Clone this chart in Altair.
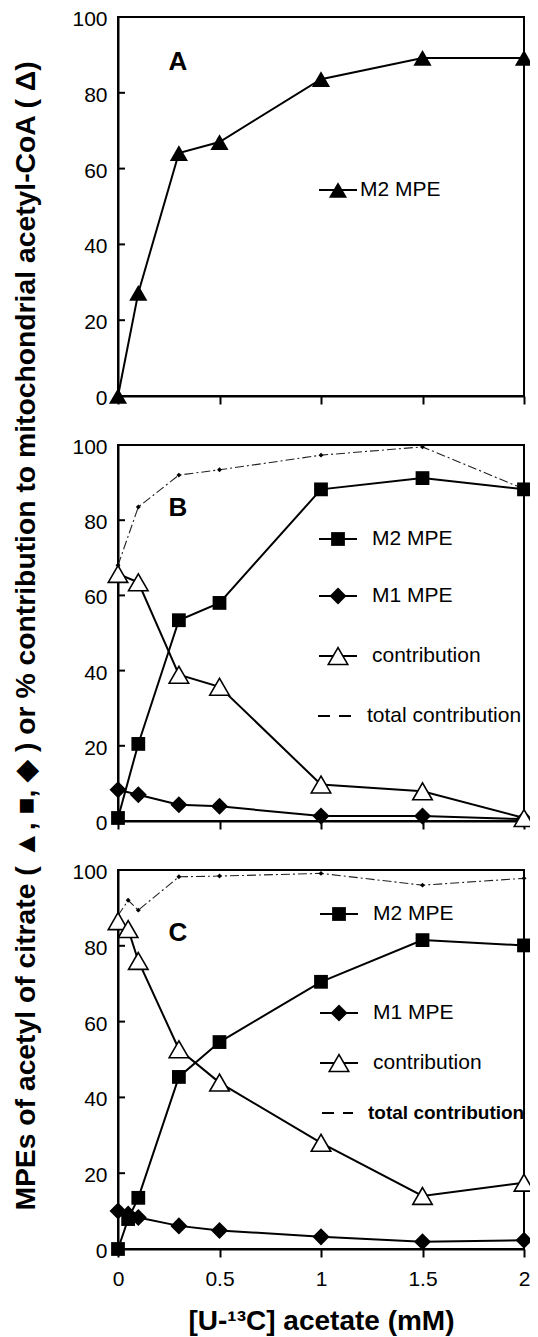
import altair as alt
import pandas as pd

FONT = "Liberation Sans"

# ---------------- data ----------------
x_ticks = [0, 0.5, 1, 1.5, 2]
y_ticks = [0, 20, 40, 60, 80, 100]

# Panel A
conc_A = [0, 0.1, 0.3, 0.5, 1, 1.5, 2]
m2_A = [0, 27.2, 64.1, 67.0, 83.6, 89.2, 89.2]

# Panel B
conc_B = [0, 0.1, 0.3, 0.5, 1, 1.5, 2]
m2_B = [0.8, 20.5, 53.4, 58.0, 88.2, 91.2, 88.2]
m1_B = [8.3, 7.0, 4.3, 3.9, 1.3, 1.3, 0.5]
contrib_B = [65.7, 63.5, 38.9, 35.7, 9.7, 7.9, 0.8]
total_B = [68.0, 83.5, 92.0, 93.4, 97.3, 99.5, 88.3]

# Panel C
conc_C = [0, 0.05, 0.1, 0.3, 0.5, 1, 1.5, 2]
m2_C = [0, 7.9, 13.5, 45.4, 54.6, 70.5, 81.5, 80.1]
m1_C = [10.0, 9.2, 8.3, 6.1, 4.9, 3.2, 1.9, 2.3]
contrib_C = [86.5, 84.4, 76.0, 52.7, 43.9, 28.0, 14.0, 17.5]
total_C = [88.0, 92.0, 89.4, 98.2, 98.4, 99.1, 96.0, 97.8]

y_title = ("MPEs of acetyl of citrate ( \u25B2, \u25A0, \u25C6 ) or % contribution "
           "to mitochondrial acetyl-CoA  ( \u0394)")
x_title = "[U-\u00B9\u00B3C] acetate (mM)"

# ---------------- styles ----------------
STY = {
    "tri": dict(shape="triangle-up", size=330, filled=True, color="black"),
    "sq": dict(shape="square", size=190, filled=True, color="black"),
    "dia": dict(shape="diamond", size=290, filled=True, color="black"),
    "otri": dict(shape="triangle-up", size=380, filled=True, fill="white",
                 stroke="black", strokeWidth=1.6),
}

W = 406
HEIGHTS = {"A": 379, "B": 376, "C": 379}
GAP = 49


def xenc(show_labels):
    if show_labels:
        axis = alt.Axis(values=x_ticks, format="~g", labelFlush=False,
                        labelPadding=11, tickSize=8, title=x_title,
                        titleFontSize=28, titleFontWeight="bold",
                        titlePadding=18, titleFont=FONT)
    else:
        axis = alt.Axis(values=x_ticks, labels=False, tickSize=8, title=None)
    return alt.X("x:Q", scale=alt.Scale(domain=[0, 2], nice=False, zero=False),
                 axis=axis)


def yenc():
    return alt.Y("y:Q", scale=alt.Scale(domain=[0, 100], nice=False),
                 axis=alt.Axis(values=y_ticks, ticks=False, labelPadding=11,
                               labelOffset=2.5, title=None))


def series(xs, ys, style, show_labels):
    df = pd.DataFrame({"x": xs, "y": ys})
    return alt.Chart(df).mark_line(
        color="black", strokeWidth=2, point=alt.OverlayMarkDef(**STY[style])
    ).encode(x=xenc(show_labels), y=yenc())


def total_series(xs, ys, show_labels):
    df = pd.DataFrame({"x": xs, "y": ys})
    return alt.Chart(df).mark_line(
        color="#222222", strokeWidth=1.1, strokeDash=[9, 3, 2, 3],
        point=alt.OverlayMarkDef(shape="diamond", size=24, filled=True,
                                 color="black"),
    ).encode(x=xenc(show_labels), y=yenc())


def inner_ticks(show_labels):
    df = pd.DataFrame({"y": y_ticks})
    return alt.Chart(df).mark_rule(color="black", strokeWidth=2).encode(
        x=alt.value(0), x2=alt.value(7), y=yenc())


def txt(t, px, py, size=21, weight="normal", align="left", angle=None):
    kw = dict(align=align, baseline="middle", fontSize=size,
              fontWeight=weight, font=FONT, color="black")
    if angle is not None:
        kw["angle"] = angle
    return alt.Chart(pd.DataFrame({"t": [t]})).mark_text(**kw).encode(
        x=alt.value(px), y=alt.value(py), text="t:N")


def legend_entry(label, style, ly, x0, x1, xm, tx, size=21, weight="normal"):
    one = pd.DataFrame({"t": [label]})
    layers = []
    if style == "dash":
        layers.append(alt.Chart(one).mark_rule(
            color="black", strokeWidth=2.2, strokeDash=[12, 9]).encode(
            x=alt.value(x0), x2=alt.value(x1), y=alt.value(ly)))
    else:
        layers.append(alt.Chart(one).mark_rule(
            color="black", strokeWidth=2).encode(
            x=alt.value(x0), x2=alt.value(x1), y=alt.value(ly)))
        layers.append(alt.Chart(one).mark_point(opacity=1, **STY[style]).encode(
            x=alt.value(xm), y=alt.value(ly)))
    layers.append(txt(label, tx, ly, size=size, weight=weight))
    return layers


# ---------------- panel A ----------------
layers_A = [
    inner_ticks(False),
    series(conc_A, m2_A, "tri", False),
    txt("A", 60, 45, size=26, weight="bold", align="center"),
]
layers_A += legend_entry("M2 MPE", "tri", 173, 201, 239, 220, 242)
panel_A = alt.layer(*layers_A).properties(width=W, height=HEIGHTS["A"])

# ---------------- panel B ----------------
layers_B = [
    inner_ticks(False),
    total_series(conc_B, total_B, False),
    series(conc_B, m2_B, "sq", False),
    series(conc_B, m1_B, "dia", False),
    series(conc_B, contrib_B, "otri", False),
    txt("B", 60, 63, size=26, weight="bold", align="center"),
    txt(y_title, -91, 191, size=28.3, weight="bold", align="center", angle=270),
]
layers_B += legend_entry("M2 MPE", "sq", 94, 201, 239, 220, 254)
layers_B += legend_entry("M1 MPE", "dia", 151, 201, 239, 220, 254)
layers_B += legend_entry("contribution", "otri", 211, 201, 239, 220, 254)
layers_B += legend_entry("total contribution", "dash", 271, 200, 233, 0, 249)
panel_B = alt.layer(*layers_B).properties(width=W, height=HEIGHTS["B"])

# ---------------- panel C ----------------
layers_C = [
    inner_ticks(True),
    total_series(conc_C, total_C, True),
    series(conc_C, m2_C, "sq", True),
    series(conc_C, m1_C, "dia", True),
    series(conc_C, contrib_C, "otri", True),
    txt("C", 60, 63, size=26, weight="bold", align="center"),
]
layers_C += legend_entry("M2 MPE", "sq", 44, 202, 240, 221, 255)
layers_C += legend_entry("M1 MPE", "dia", 143, 202, 240, 221, 255)
layers_C += legend_entry("contribution", "otri", 193, 202, 240, 221, 255)
layers_C += legend_entry("total contribution", "dash", 243, 204, 235, 0, 250,
                         size=19, weight="bold")
panel_C = alt.layer(*layers_C).properties(width=W, height=HEIGHTS["C"])

# With autosize "none" the page size is given by the padding around the
# (width-only) layout of the concatenation.
pad_left, pad_top = 110, 9
pad_right = 522 - pad_left - W
pad_bottom = 1329 - pad_top

chart = alt.vconcat(panel_A, panel_B, panel_C, spacing=GAP, bounds="flush").properties(
    autosize=alt.AutoSizeParams(type="none"),
    padding={"left": pad_left, "top": pad_top, "right": pad_right,
             "bottom": pad_bottom},
).configure(font=FONT).configure_view(
    stroke="black", strokeWidth=2
).configure_axis(
    domainColor="black", domainWidth=2, tickColor="black", tickWidth=2,
    labelColor="black", labelFontSize=21, labelFont=FONT, grid=False,
    titleColor="black",
)

chart.save("out.html", embed_options={"renderer": "svg", "actions": False})
